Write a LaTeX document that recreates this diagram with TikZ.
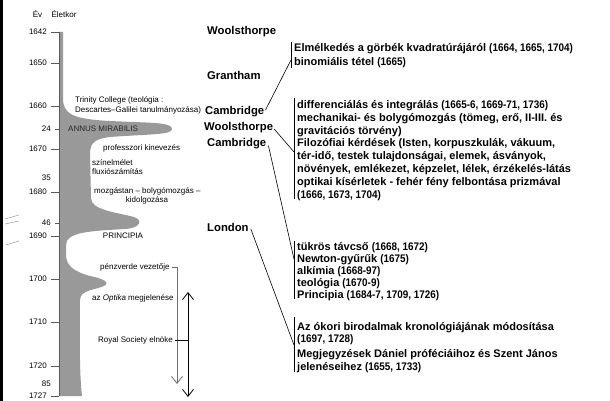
\documentclass[tikz,border=0pt]{standalone}
\usepackage{fontspec}
\usepackage{graphicx}
\setmainfont{Liberation Sans}
\usetikzlibrary{arrows.meta}
\definecolor{shapegray}{RGB}{153,153,153}
\definecolor{axisgray}{RGB}{90,90,90}
\definecolor{linegray}{RGB}{110,110,110}
\newcommand{\nums}[1]{\scalebox{0.9}[1]{#1}}
\begin{document}
\begin{tikzpicture}[x=1pt,y=-1pt,
  small/.style={font=\fontsize{8}{9}\selectfont, inner sep=0pt},
  place/.style={font=\fontsize{11.3}{13}\selectfont\bfseries, inner sep=0pt, anchor=base west},
  item/.style={font=\fontsize{11}{12}\selectfont\bfseries, inner sep=0pt, anchor=base west},
  link/.style={draw=black, line width=0.6pt},
  brack/.style={draw=black, line width=0.8pt},
  barb/.tip={Straight Barb[length=7pt,width=11pt]}
]
\useasboundingbox (0,0) rectangle (610,401);
\fill[white] (0,0) rectangle (610,401);
% left border
\fill[black] (0,0) rectangle (3,401);
\draw[gray!70, line width=0.6pt] (5,219) -- (19,215);
\draw[gray!70, line width=0.6pt] (5,224) -- (19,221);
\draw[gray!70, line width=0.6pt] (6,245) -- (19,241);

% grey activity shape
\fill[shapegray] (59,32) -- (63,32) -- (63,98)
  .. controls (63,114) and (72,119) .. (110,121)
  .. controls (150,123) and (172,122) .. (172,129)
  .. controls (172,135) and (150,134) .. (110,137)
  .. controls (92,139) and (90,145) .. (90,155)
  -- (91,198)
  .. controls (91,210) and (115,212) .. (134,217)
  .. controls (143,220) and (141,228) .. (125,229)
  .. controls (90,231) and (66,232) .. (66,245)
  -- (66,255)
  .. controls (66,266) and (75,272) .. (90,276)
  .. controls (105,279) and (110,283) .. (104,286)
  .. controls (95,290) and (80,290) .. (80,300)
  .. controls (80,330) and (79,370) .. (82,396)
  -- (59,396) -- cycle;
% axis
\draw[axisgray, line width=0.8pt] (59,32) -- (59,396);

% header
\node[small] (ev) at (37.5,14) {Év};
\node[small] (eletkor) at (64,14) {Életkor};

% year ticks
\foreach \yr/\py in {1642/32,1650/63,1660/106,1670/149,1680/192,1690/236,1700/279,1710/322,1720/366,1727/396}{
  \node[small, anchor=east] (y\yr) at (47,\py) {\yr};
  \draw[axisgray, line width=0.8pt] (51,\py) -- (59,\py);
}
% ages
\foreach \ag/\py in {24/129,35/178,46/223,85/384}{
  \node[small, anchor=east] (a\ag) at (51,\py) {\ag};
}
\draw[axisgray, line width=0.8pt] (55,129) -- (59,129);
\draw[axisgray, line width=0.8pt] (55,223) -- (59,223);

% life labels
\node[small, anchor=west] (trin1) at (75,100) {Trinity College (teológia :};
\node[small, anchor=west] (trin2) at (75,110) {Descartes–Galilei tanulmányozása)};
\node[small, anchor=west, text=black!85] (annus) at (68,129) {ANNUS MIRABILIS};
\node[small, anchor=west] (prof) at (103,148) {professzori kinevezés};
\node[small, anchor=west] (szin1) at (92,163) {színelmélet};
\node[small, anchor=west] (szin2) at (92,172) {fluxiószámítás};
\node[small, anchor=west] (mozg1) at (94,191) {mozgástan – bolygómozgás –};
\node[small] (mozg2) at (147,200) {kidolgozása};
\node[small] (princ) at (123,236) {PRINCIPIA};
\node[small, anchor=west] (penz) at (100,267) {pénzverde vezetője};
\node[small, anchor=west] (optika) at (92,298) {az \textit{Optika} megjelenése};
\node[small, anchor=west] (royal) at (98,340) {Royal Society elnöke};

% period arrows
\coordinate (penzc) at (177,267);
\coordinate (penze) at (177,384);
\draw[linegray, line width=0.8pt] (penz.east) ++(2,0) -- (penzc);
\draw[linegray, line width=0.8pt, -{barb}] (penzc) -- (penze);
\coordinate (rst) at (188,292);
\coordinate (rsb) at (188,397);
\coordinate (rsm) at (188,340);
\draw[black, line width=0.8pt, {barb}-{barb}] (rst) -- (rsb);
\draw[black, line width=0.8pt] (royal.east) ++(2,0) -- (rsm);

% places
\node[place] (wool1) at (207,35) {Woolsthorpe};
\node[place] (gran) at (207,80) {Grantham};
\node[place] (cam1) at (205,115) {Cambridge};
\node[place] (wool2) at (204,131) {Woolsthorpe};
\node[place] (cam2) at (207,146.5) {Cambridge};
\node[place] (lond) at (207,231) {London};

% bracket 1
\coordinate (b1t) at (291,42);
\coordinate (b1b) at (291,68);
\coordinate (b1j) at (291,60);
\draw[brack] (b1t) -- (b1b);
\node[item] (b1a) at (294,51.5) {Elmélkedés a görbék kvadratúrájáról \nums{(1664, 1665, 1704)}};
\node[item] (b1c) at (294,65.5) {binomiális tétel \nums{(1665)}};
\draw[link] (cam1.east) ++(1,-2) -- (b1j);

% bracket 2
\coordinate (b2t) at (294,98);
\coordinate (b2b) at (294,199);
\coordinate (b2j) at (294,152);
\draw[brack] (b2t) -- (b2b);
\node[item] (b2a) at (297,108.5) {differenciálás és integrálás \nums{(1665-6, 1669-71, 1736)}};
\node[item] (b2b) at (297,121.3) {mechanikai- és bolygómozgás (tömeg, erő, II-III. és};
\node[item] (b2c) at (297,134.1) {gravitációs törvény)};
\node[item] (b2d) at (297,146.9) {Filozófiai kérdések (Isten, korpuszkulák, vákuum,};
\node[item] (b2e) at (297,159.7) {tér-idő, testek tulajdonságai, elemek, ásványok,};
\node[item] (b2f) at (297,172.5) {növények, emlékezet, képzelet, lélek, érzékelés-látás};
\node[item] (b2g) at (297,185.3) {optikai kísérletek - fehér fény felbontása prizmával};
\node[item] (b2h) at (297,198.1) {\nums{(1666, 1673, 1704)}};
\draw[link] (wool2.east) ++(1,1) -- (b2j);

% bracket 3
\coordinate (b3t) at (294,241);
\coordinate (b3b) at (294,299);
\coordinate (b3j) at (294,259);
\draw[brack] (b3t) -- (b3b);
\node[item] (b3a) at (297,250.5) {tükrös távcső \nums{(1668, 1672)}};
\node[item] (b3b) at (297,262.5) {Newton-gyűrűk \nums{(1675)}};
\node[item] (b3c) at (297,274.5) {alkímia \nums{(1668-97)}};
\node[item] (b3d) at (297,286.5) {teológia \nums{(1670-9)}};
\node[item] (b3e) at (297,298.5) {Principia \nums{(1684-7, 1709, 1726)}};
\draw[link] (cam2.east) ++(2,2) -- (b3j);

% bracket 4
\coordinate (b4t) at (294,317);
\coordinate (b4b) at (294,372);
\coordinate (b4j) at (294,345);
\draw[brack] (b4t) -- (b4b);
\node[item] (b4a) at (297,330.5) {Az ókori birodalmak kronológiájának módosítása};
\node[item] (b4b) at (297,342.5) {\nums{(1697, 1728)}};
\node[item] (b4c) at (297,357.5) {Megjegyzések Dániel próféciáihoz és Szent János};
\node[item] (b4d) at (297,370.5) {jelenéseihez \nums{(1655, 1733)}};
\draw[link] (lond.east) ++(2,2) -- (b4j);
\end{tikzpicture}
\end{document}
